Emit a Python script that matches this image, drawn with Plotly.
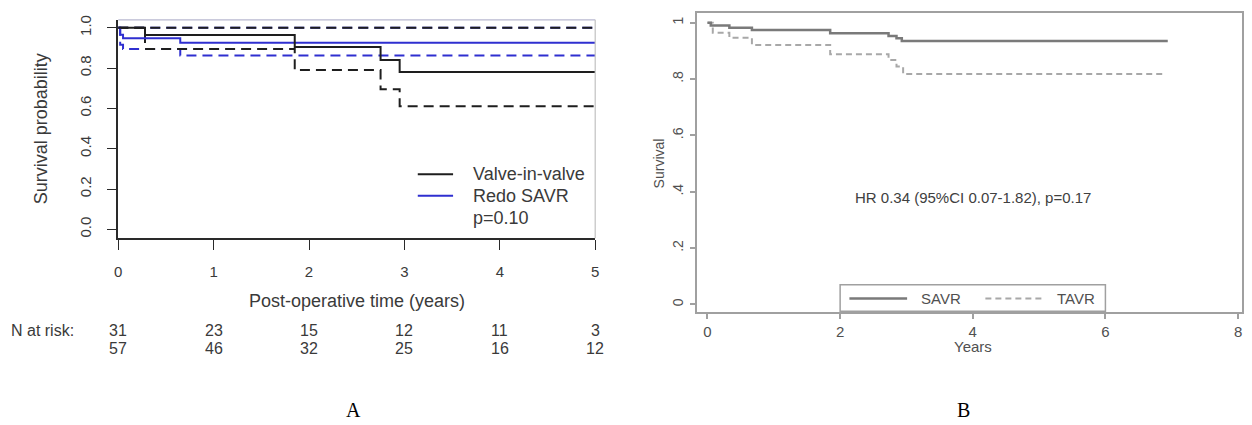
import plotly.graph_objects as go

W, H = 1252, 425

# ---------------- Panel A data ----------------
viv_t = [0, 0.28, 1.85, 2.75, 2.95, 5]
viv_s = [1.0, 0.964, 0.905, 0.84, 0.78, 0.78]
viv_lo = [1.0, 0.895, 0.79, 0.695, 0.61, 0.61]
viv_hi = [1.0, 1.0, 1.0, 1.0, 1.0, 1.0]

redo_t = [0, 0.02, 0.05, 0.65, 5]
redo_s = [1.0, 0.965, 0.948, 0.926, 0.926]
redo_lo = [1.0, 0.915, 0.895, 0.862, 0.862]
redo_hi = [1.0, 1.0, 1.0, 1.0, 1.0]

a_xticks = [0, 1, 2, 3, 4, 5]
a_yticks = [0.0, 0.2, 0.4, 0.6, 0.8, 1.0]
risk_times = [0, 1, 2, 3, 4, 5]
risk_viv = [31, 23, 15, 12, 11, 3]
risk_redo = [57, 46, 32, 25, 16, 12]
legend_a = ["Valve-in-valve", "Redo SAVR", "p=0.10"]

# ---------------- Panel B data ----------------
savr_t = [0, 0.05, 0.33, 0.67, 1.85, 2.73, 2.85, 2.93, 6.94]
savr_s = [1.0, 0.99, 0.982, 0.974, 0.963, 0.953, 0.945, 0.935, 0.935]
tavr_t = [0, 0.08, 0.33, 0.67, 1.85, 2.73, 2.85, 2.95, 6.88]
tavr_s = [1.0, 0.965, 0.947, 0.921, 0.888, 0.868, 0.845, 0.818, 0.818]

b_xticks = [0, 2, 4, 6, 8]
b_yticks = [0, 0.2, 0.4, 0.6, 0.8, 1.0]
b_yticklabels = ["0", ".2", ".4", ".6", ".8", "1"]
hr_text = "HR 0.34 (95%CI 0.07-1.82), p=0.17"
legend_b = ["SAVR", "TAVR"]

# ---------------- geometry helpers ----------------
def px(x):
    return x / W

def py(y):
    return 1 - y / H

BLACK = "#1e1e1e"
BLUE = "#2f2fd0"
TXT = "#3a3a3a"
GTXT = "#505050"
FONT = "Liberation Sans, Arial, sans-serif"
SERIF = "Liberation Serif, Times New Roman, serif"

fig = go.Figure()

# Panel A traces
DASH_A = "10px,6px"
for t, s, col in [(redo_t, redo_hi, BLUE), (redo_t, redo_lo, BLUE),
                  (viv_t, viv_hi, BLACK), (viv_t, viv_lo, BLACK)]:
    fig.add_trace(go.Scatter(x=t, y=s, mode="lines", line=dict(color=col, width=2, dash=DASH_A, shape="hv"),
                             xaxis="x", yaxis="y", showlegend=False, hoverinfo="skip"))
fig.add_trace(go.Scatter(x=redo_t, y=redo_s, mode="lines", line=dict(color=BLUE, width=2, shape="hv"),
                         xaxis="x", yaxis="y", name="Redo SAVR", showlegend=False))
fig.add_trace(go.Scatter(x=viv_t, y=viv_s, mode="lines", line=dict(color=BLACK, width=2, shape="hv"),
                         xaxis="x", yaxis="y", name="Valve-in-valve", showlegend=False))

# Panel B traces
fig.add_trace(go.Scatter(x=tavr_t, y=tavr_s, mode="lines", line=dict(color="#a8a8a8", width=2, dash="6px,4px", shape="hv"),
                         xaxis="x2", yaxis="y2", name="TAVR", showlegend=False))
fig.add_trace(go.Scatter(x=savr_t, y=savr_s, mode="lines", line=dict(color="#7a7a7a", width=2.5, shape="hv"),
                         xaxis="x2", yaxis="y2", name="SAVR", showlegend=False))

# Panel A axes: x=0 at 115px, x=5 at 595px; y: 1.0 at 23px, 0 at 227px; box 15..236
a_top, a_bot = 15, 236
a_y1, a_y0 = 23, 227
a_unit = a_y0 - a_y1
a_yr = [-(a_bot - a_y0) / a_unit, 1 + (a_y1 - a_top) / a_unit]

# Panel B axes: left 697, right 1246; x0 at 708, 8 at 1242; y: 1 at 18, 0 at 303; box 8..311
b_x0, b_x8 = 708, 1242
b_l, b_r = 697, 1246
b_xu = (b_x8 - b_x0) / 8
b_xr = [(b_l - b_x0) / b_xu, (b_r - b_x0) / b_xu]
b_top, b_bot = 8, 311
b_y1, b_y0 = 18, 303
b_yu = b_y0 - b_y1
b_yr = [-(b_bot - b_y0) / b_yu, 1 + (b_y1 - b_top) / b_yu]

fig.update_layout(
    width=W, height=H,
    margin=dict(l=0, r=0, t=0, b=0),
    paper_bgcolor="white", plot_bgcolor="white",
    font=dict(family=FONT, color=TXT),
    xaxis=dict(domain=[px(115), px(595)], range=[0, 5], tickvals=a_xticks,
               showgrid=False, zeroline=False, showline=True, linecolor="#2a2a2a", linewidth=1.5,
               ticks="outside", ticklen=10, tickcolor="#2a2a2a", tickwidth=1.2,
               tickfont=dict(size=15, color=TXT, family=FONT), ticklabelstandoff=9, anchor="y"),
    yaxis=dict(domain=[py(a_bot), py(a_top)], range=a_yr, tickvals=a_yticks, tickformat=".1f",
               showgrid=False, zeroline=False, showline=True, linecolor="#2a2a2a", linewidth=1.5,
               ticks="outside", ticklen=10, tickcolor="#2a2a2a", tickwidth=1.2, tickangle=-90,
               tickfont=dict(size=15, color=TXT, family=FONT), ticklabelstandoff=10, anchor="x"),
    xaxis2=dict(domain=[px(b_l), px(b_r)], range=b_xr, tickvals=b_xticks,
                showgrid=False, zeroline=False, showline=True, mirror=True, linecolor="#a0a0a0", linewidth=2,
                ticks="outside", ticklen=5, tickcolor="#a0a0a0", tickwidth=1.5,
                tickfont=dict(size=15, color=GTXT, family=FONT), ticklabelstandoff=0, anchor="y2"),
    yaxis2=dict(domain=[py(b_bot), py(b_top)], range=b_yr, tickvals=b_yticks, ticktext=b_yticklabels,
                showgrid=False, zeroline=False, showline=True, mirror=True, linecolor="#a0a0a0", linewidth=2,
                ticks="outside", ticklen=5, tickcolor="#a0a0a0", tickwidth=1.5, tickangle=-90,
                tickfont=dict(size=14, color=GTXT, family=FONT), ticklabelstandoff=1, anchor="x2"),
)

shapes = []
# light box around panel A (top & right)
shapes.append(dict(type="line", xref="paper", yref="paper", x0=px(115), x1=px(595), y0=py(a_top), y1=py(a_top),
                   line=dict(color="#b8b8d0", width=1.2)))
shapes.append(dict(type="line", xref="paper", yref="paper", x0=px(595), x1=px(595), y0=py(a_top), y1=py(a_bot),
                   line=dict(color="#c0c0c0", width=1.2)))

annotations = []

def note(x, y, text, xref="paper", yref="paper", size=15, color=TXT, family=FONT, xanchor="center", angle=0):
    annotations.append(dict(x=x, y=y, xref=xref, yref=yref, text=text, showarrow=False,
                            xanchor=xanchor, yanchor="middle", textangle=angle,
                            font=dict(size=size, color=color, family=family)))

# Panel A legend (data coords)
leg_rows = [0.273, 0.167, 0.057]
leg_cols = [BLACK, BLUE]
for i, col in enumerate(leg_cols):
    shapes.append(dict(type="line", xref="x", yref="y", x0=3.14, x1=3.51, y0=leg_rows[i], y1=leg_rows[i],
                       line=dict(color=col, width=2)))
for i, txt in enumerate(legend_a):
    note(3.70, leg_rows[i], txt, xref="x", yref="y", size=18, xanchor="left")

# Panel A titles
note(px(37), py((a_y0 + a_y1) / 2), "Survival probability", size=18, angle=-90)
note(2.5, py(300), "Post-operative time (years)", xref="x", size=18)
note(px(5), py(329), "N at risk:", size=16, xanchor="left")
for t, a, b in zip(risk_times, risk_viv, risk_redo):
    note(t, py(329), str(a), xref="x", size=16)
    note(t, py(348), str(b), xref="x", size=16)
note(px(352), py(410), "A", size=20, color="black", family=SERIF)

# Panel B text
note(4.0, 0.38, hr_text, xref="x2", yref="y2", size=15, color="#404040")
note(px(659), py((b_y0 + b_y1) / 2), "Survival", size=14, color=GTXT, angle=-90)
note(4.0, py(346), "Years", xref="x2", size=15, color=GTXT)
note(px(966), py(410), "B", size=20, color="black", family=SERIF)

# Panel B legend box
shapes.append(dict(type="rect", xref="x2", yref="paper", x0=2.0, x1=6.0, y0=py(310), y1=py(283),
                   line=dict(color="#a0a0a0", width=1.5), fillcolor="white"))
leg_y = py(297)
shapes.append(dict(type="line", xref="x2", yref="paper", x0=2.14, x1=3.01, y0=leg_y, y1=leg_y,
                   line=dict(color="#7a7a7a", width=2.5)))
shapes.append(dict(type="line", xref="x2", yref="paper", x0=4.19, x1=5.09, y0=leg_y, y1=leg_y,
                   line=dict(color="#a8a8a8", width=2, dash="6px,4px")))
note(3.19, leg_y, legend_b[0], xref="x2", size=15, color=GTXT, xanchor="left")
note(5.24, leg_y, legend_b[1], xref="x2", size=15, color=GTXT, xanchor="left")

fig.update_layout(shapes=shapes, annotations=annotations)
fig.write_html("out.html", config={"displayModeBar": False},
               post_script="document.body.style.margin='0px';document.body.style.padding='0px';")
